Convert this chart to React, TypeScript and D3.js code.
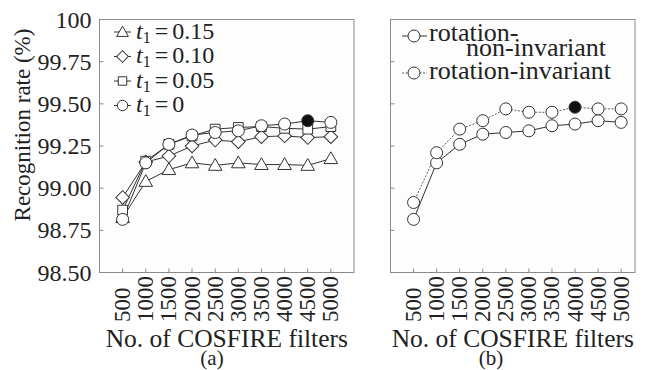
import * as d3 from "d3"

const filters = [500, 1000, 1500, 2000, 2500, 3000, 3500, 4000, 4500, 5000]
const yTicks = [98.5, 98.75, 99.0, 99.25, 99.5, 99.75, 100]
const yTickLabels = ["98.50", "98.75", "99.00", "99.25", "99.50", "99.75", "100"]

// panel (a): recognition rate for different t1 thresholds
const t1Labels = ["0.15", "0.10", "0.05", "0"]
const t1Symbols = ["triangle", "diamond", "square", "circle"]
const t1_015 = [98.825, 99.04, 99.11, 99.15, 99.135, 99.15, 99.14, 99.14, 99.135, 99.175]
const t1_010 = [98.945, 99.155, 99.19, 99.25, 99.285, 99.275, 99.305, 99.31, 99.3, 99.305]
const t1_005 = [98.87, 99.16, 99.26, 99.31, 99.35, 99.36, 99.365, 99.355, 99.35, 99.365]
const t1_000 = [98.815, 99.15, 99.26, 99.315, 99.33, 99.34, 99.37, 99.38, 99.4, 99.39]
const bestA = { series: 3, index: 8 }

// panel (b): rotation invariance
const rotNonInv = [98.815, 99.15, 99.26, 99.32, 99.33, 99.34, 99.37, 99.38, 99.4, 99.39]
const rotInv = [98.915, 99.21, 99.35, 99.4, 99.47, 99.45, 99.45, 99.48, 99.47, 99.47]
const bestB = { series: 1, index: 7 }

const FONT = "Liberation Serif, DejaVu Serif, serif"
const INK = "#222"
const FRAME = "#8a8a8a"

const W = 651
const H = 370
const top = 19.5
const bottom = 272.5

const y = d3.scaleLinear().domain([98.5, 100]).range([bottom, top])
const xA = d3.scaleLinear().domain([0, 5500]).range([99.5, 354])
const xB = d3.scaleLinear().domain([0, 5300]).range([390.5, 635])

const symbolPath = (kind: string, k = 1) => {
  if (kind === "triangle") return d3.symbol(d3.symbolTriangle, 80 * k)()
  if (kind === "square") return d3.symbol(d3.symbolSquare, 95 * k)()
  if (kind === "diamond") return d3.symbol(d3.symbolSquare, 92 * k)()
  return d3.symbol(d3.symbolCircle, 113 * k)()
}

const Marker = ({ kind, cx, cy, filled = false, k = 1 }: { kind: string; cx: number; cy: number; filled?: boolean; k?: number }) => (
  <path
    d={symbolPath(kind, k) || ""}
    transform={`translate(${cx},${cy})${kind === "diamond" ? " rotate(45)" : ""}${kind === "triangle" ? " translate(0,1)" : ""}`}
    fill={filled ? "#111" : "#fff"}
    stroke="#333"
    strokeWidth={1}
  />
)

const Frame = ({ x, showYLabels }: { x: d3.ScaleLinear<number, number>; showYLabels: boolean }) => {
  const [x0, x1] = x.range()
  return (
    <g>
      <rect x={x0} y={top} width={x1 - x0} height={bottom - top} fill="#fdfdfd" stroke={FRAME} strokeWidth={1} />
      {yTicks.map((t, i) => (
        <g key={t}>
          <line x1={x0} x2={x0 + 4} y1={y(t)} y2={y(t)} stroke={FRAME} />
          {showYLabels && (
            <text x={x0 - 8} y={y(t)} textAnchor="end" dominantBaseline="central" fontSize={24} fill={INK}>
              {yTickLabels[i]}
            </text>
          )}
        </g>
      ))}
      {filters.map((f) => (
        <g key={f}>
          <line x1={x(f)} x2={x(f)} y1={bottom} y2={bottom - 4} stroke={FRAME} />
          <text
            transform={`translate(${x(f)},${322}) rotate(-90)`}
            dominantBaseline="central"
            fontSize={23}
            fill={INK}
          >
            {f}
          </text>
        </g>
      ))}
      <text x={(x0 + x1) / 2} y={347} textAnchor="middle" fontSize={25.5} fill={INK}>
        No. of COSFIRE filters
      </text>
    </g>
  )
}

export default function App() {
  const lineA = d3
    .line<number>()
    .x((_, i) => xA(filters[i]))
    .y((d) => y(d))
  const lineB = d3
    .line<number>()
    .x((_, i) => xB(filters[i]))
    .y((d) => y(d))

  const seriesA = [t1_015, t1_010, t1_005, t1_000]
  const seriesB = [rotNonInv, rotInv]

  return (
    <div style={{ position: "absolute", left: 0, top: 0 }}>
      <svg width={W} height={H} style={{ display: "block", background: "#fff", fontFamily: FONT }}>
        <text transform={`translate(22,125) rotate(-90)`} textAnchor="middle" dominantBaseline="central" fontSize={23} fill={INK}>
          Recognition rate (%)
        </text>

        {/* panel (a) */}
        <Frame x={xA} showYLabels={true} />
        {seriesA.map((s, k) => (
          <path key={"la" + k} d={lineA(s) || ""} fill="none" stroke="#333" strokeWidth={1} />
        ))}
        {seriesA.map((s, k) =>
          s.map((v, i) => (
            <Marker
              key={`ma${k}-${i}`}
              kind={t1Symbols[k]}
              cx={xA(filters[i])}
              cy={y(v)}
              filled={bestA.series === k && bestA.index === i}
            />
          ))
        )}
        {t1Labels.map((lab, k) => {
          const cy = 32 + k * 24.5
          return (
            <g key={lab}>
              <line x1={114} x2={131} y1={cy} y2={cy} stroke="#333" />
              <Marker kind={t1Symbols[k]} cx={122.5} cy={cy} k={0.75} />
              <text x={136} y={cy + 6.5} fontSize={24} fill={INK}>
                <tspan fontStyle="italic">t</tspan>
                <tspan fontSize={16} dy={4}>1</tspan>
                <tspan dy={-4} dx={4}>=</tspan>
                <tspan dx={4}>{lab}</tspan>
              </text>
            </g>
          )
        })}
        <text x={212} y={365} textAnchor="middle" fontSize={21} fill={INK}>(a)</text>

        {/* panel (b) */}
        <Frame x={xB} showYLabels={false} />
        {seriesB.map((s, k) => (
          <path
            key={"lb" + k}
            d={lineB(s) || ""}
            fill="none"
            stroke="#333"
            strokeWidth={k === 1 ? 0.8 : 1}
            strokeDasharray={k === 1 ? "2,1.5" : undefined}
          />
        ))}
        {seriesB.map((s, k) =>
          s.map((v, i) => (
            <Marker
              key={`mb${k}-${i}`}
              kind="circle"
              cx={xB(filters[i])}
              cy={y(v)}
              filled={bestB.series === k && bestB.index === i}
            />
          ))
        )}
        <line x1={402} x2={427} y1={36} y2={36} stroke="#333" />
        <Marker kind="circle" cx={414} cy={36} />
        <text x={429} y={41} fontSize={26} fill={INK}>rotation-</text>
        <text x={466} y={56} fontSize={26} fill={INK}>non-invariant</text>
        <line x1={402} x2={427} y1={73} y2={73} stroke="#333" strokeDasharray="2,1.5" strokeWidth={0.8} />
        <Marker kind="circle" cx={414} cy={73} />
        <text x={429} y={79} fontSize={26} fill={INK}>rotation-invariant</text>
        <text x={491} y={365} textAnchor="middle" fontSize={21} fill={INK}>(b)</text>
      </svg>
    </div>
  )
}
